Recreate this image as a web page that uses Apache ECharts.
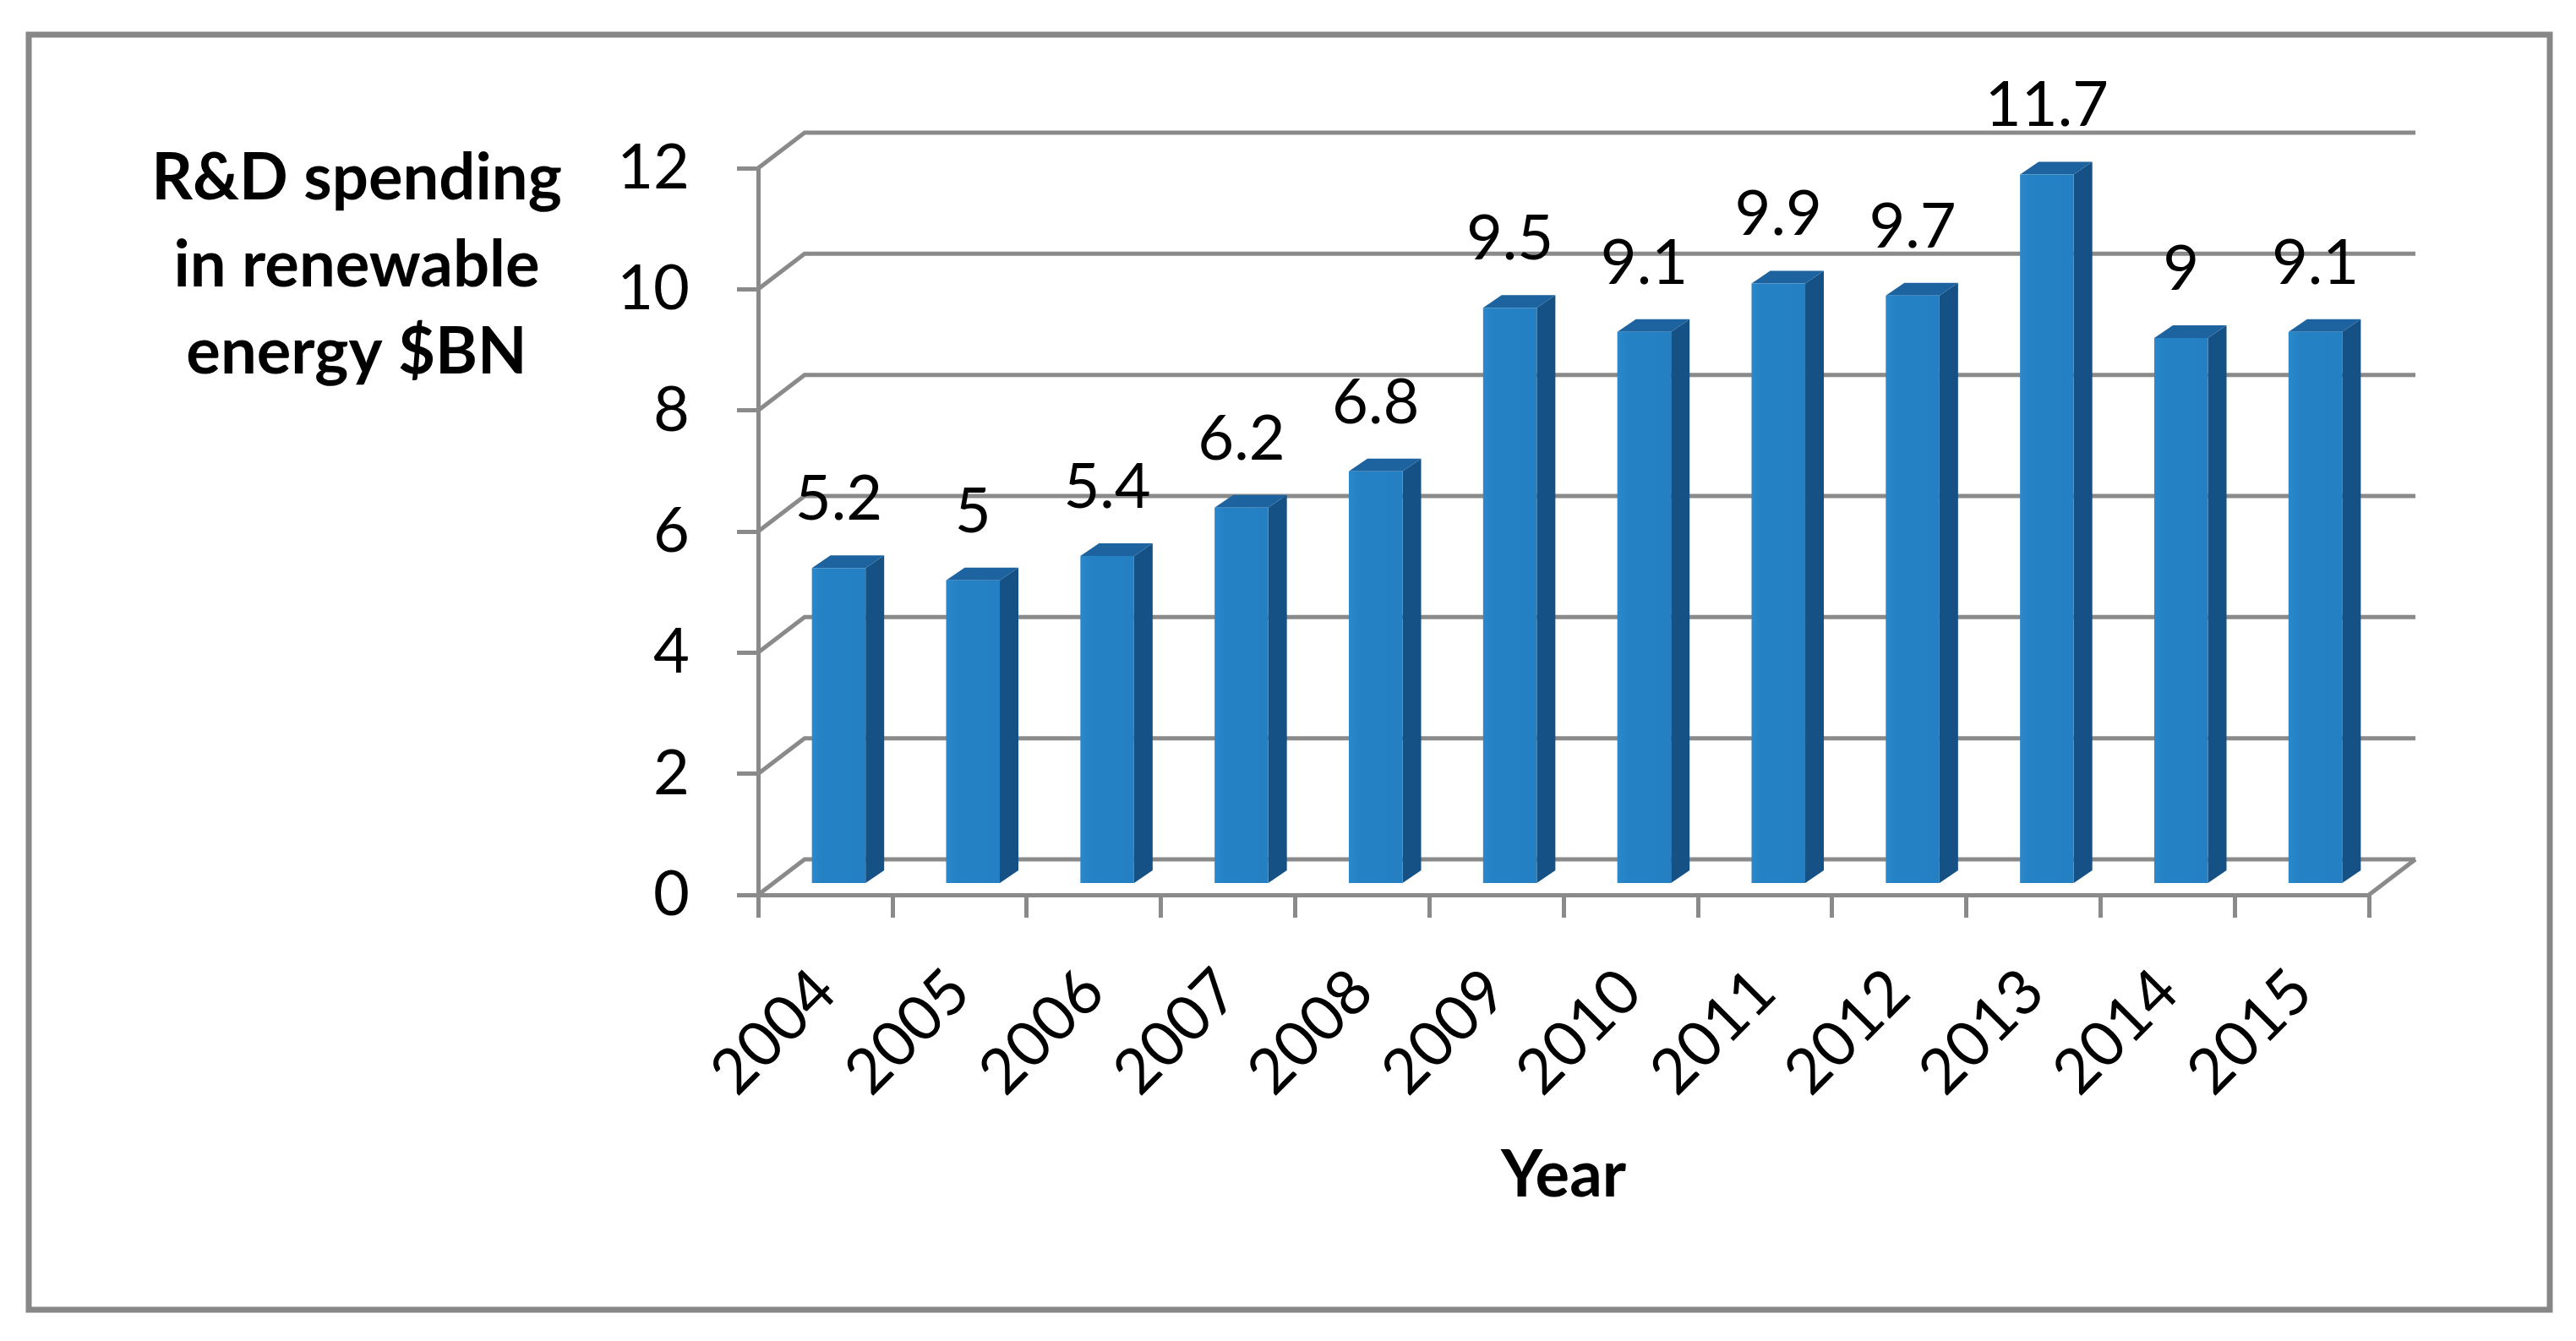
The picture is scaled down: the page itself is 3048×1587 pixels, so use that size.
<!DOCTYPE html>
<html lang="en">
<head>
<meta charset="UTF-8">
<script src="https://cdn.jsdelivr.net/npm/echarts@6/dist/echarts.min.js"></script>
<style>
    html, body { margin: 0; padding: 0; background: #fff; }
    #chart { width: 3048px; height: 1587px; }
</style>
</head>
<body>
<div id="chart"></div>
<script>
    // data
    var years = ['2004', '2005', '2006', '2007', '2008', '2009', '2010', '2011', '2012', '2013', '2014', '2015'];
    var spending = [5.2, 5, 5.4, 6.2, 6.8, 9.5, 9.1, 9.9, 9.7, 11.7, 9, 9.1];
    var yTicks = [0, 2, 4, 6, 8, 10, 12];

    var FONT = 'Lato';
    var gridColor = '#8a8a8a';

    // fake 3d offsets (pixels)
    var wall = { dx: 55, dy: 42 };      // back wall relative to front axis
    var barShift = { dx: 16, dy: 14 };  // bar front face relative to front axis
    var barDepth = { dx: 22, dy: 15 };  // bar thickness

    var chart = echarts.init(document.getElementById('chart'));

    function renderWall(params, api) {
        var cs = params.coordSys;
        var v = api.value(1);
        var y = api.coord([0, v])[1];
        var x0 = cs.x, x1 = cs.x + cs.width;
        var kids = [{
            type: 'polyline',
            shape: { points: [[x0, y], [x0 + wall.dx, y - wall.dy], [x1 + wall.dx, y - wall.dy]] },
            style: { fill: null, stroke: gridColor, lineWidth: 5 }
        }];
        if (v === 0) {
            kids.push({
                type: 'line',
                shape: { x1: x1, y1: y, x2: x1 + wall.dx, y2: y - wall.dy },
                style: { stroke: gridColor, lineWidth: 5 }
            });
        }
        return { type: 'group', children: kids };
    }

    function renderBar(params, api) {
        var i = api.value(0), v = api.value(1);
        var top = api.coord([i, v]);
        var base = api.coord([i, 0]);
        var band = api.size([1, 0])[0];
        var w = band * 0.4;
        var xl = top[0] - w / 2 + barShift.dx, xr = xl + w;
        var yt = top[1] - barShift.dy, yb = base[1] - barShift.dy;
        var ddx = barDepth.dx, ddy = barDepth.dy;
        return {
            type: 'group',
            children: [{
                type: 'polygon',
                shape: { points: [[xr, yt], [xr + ddx, yt - ddy], [xr + ddx, yb - ddy], [xr, yb]] },
                style: { fill: '#165185' }
            }, {
                type: 'polygon',
                shape: { points: [[xl, yt], [xl + ddx, yt - ddy], [xr + ddx, yt - ddy], [xr, yt]] },
                style: { fill: '#1c639f' }
            }, {
                type: 'rect',
                shape: { x: xl, y: yt, width: w, height: yb - yt },
                style: {
                    fill: new echarts.graphic.LinearGradient(0, 0, 1, 0, [
                        { offset: 0, color: '#2a89cb' },
                        { offset: 0.2, color: '#2481c3' },
                        { offset: 1, color: '#2480c2' }
                    ])
                }
            }, {
                type: 'text',
                style: {
                    text: String(v),
                    x: (xl + xr) / 2,
                    y: yt - 81,
                    align: 'center',
                    verticalAlign: 'middle',
                    fontSize: 74,
                    fontFamily: FONT,
                    fill: '#000'
                }
            }]
        };
    }

    var option = {
        backgroundColor: '#fff',
        animation: false,
        graphic: [{
            type: 'rect',
            shape: { x: 34, y: 41, width: 2983, height: 1509 },
            style: { fill: null, stroke: '#878787', lineWidth: 7 },
            z: -10
        }, {
            type: 'text',
            x: 422,
            y: 160,
            style: {
                text: 'R&D spending\nin renewable\nenergy $BN',
                align: 'center',
                verticalAlign: 'top',
                lineHeight: 103,
                fontSize: 76,
                fontWeight: 'bold',
                fontFamily: FONT,
                fill: '#000'
            }
        }],
        grid: { left: 897, top: 199, width: 1906, height: 860 },
        xAxis: {
            type: 'category',
            data: years,
            boundaryGap: true,
            axisLine: { lineStyle: { color: gridColor, width: 5 } },
            axisTick: { show: true, length: 27, interval: 0, lineStyle: { color: gridColor, width: 5 } },
            axisLabel: { rotate: 45, interval: 0, margin: 102, fontSize: 74, fontFamily: FONT, color: '#000' },
            splitLine: { show: false },
            name: 'Year',
            nameLocation: 'middle',
            nameGap: 294,
            nameTextStyle: { fontSize: 76, fontWeight: 'bold', fontFamily: FONT, color: '#000' }
        },
        yAxis: {
            type: 'value',
            min: 0,
            max: 12,
            interval: 2,
            axisLine: { show: true, lineStyle: { color: gridColor, width: 5 } },
            axisTick: { show: true, length: 25, lineStyle: { color: gridColor, width: 5 } },
            axisLabel: { margin: 81, fontSize: 74, fontFamily: FONT, color: '#000' },
            splitLine: { show: false }
        },
        series: [{
            type: 'custom',
            name: 'walls',
            silent: true,
            clip: false,
            z: 1,
            renderItem: renderWall,
            encode: { x: 0, y: 1 },
            data: yTicks.map(function (v) { return [0, v]; })
        }, {
            type: 'custom',
            name: 'R&D spending',
            clip: false,
            z: 3,
            renderItem: renderBar,
            encode: { x: 0, y: 1 },
            data: spending.map(function (v, i) { return [i, v]; })
        }]
    };

    chart.setOption(option);
</script>
</body>
</html>
